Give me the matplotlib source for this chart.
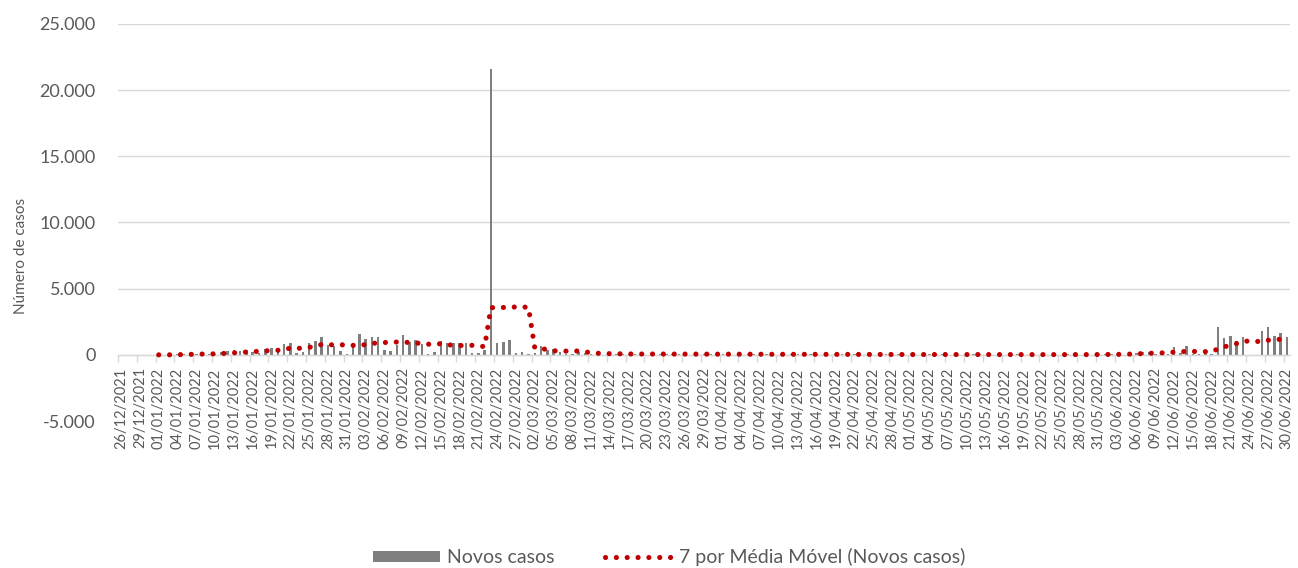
import numpy as np
import pandas as pd
import matplotlib
matplotlib.use('Agg')
import matplotlib.pyplot as plt
from matplotlib.ticker import FuncFormatter

# ---------------- data ----------------
datas = pd.date_range('2021-12-26', '2022-06-30', freq='D')
rotulos = [d.strftime('%d/%m/%Y') for d in datas]

novos_casos = [
    0, 0, 0, 0, 0, 0, 0,                      # 26/12 - 01/01
    0, 10, 60, 80, 90, 100, 80,               # 02/01 - 08/01
    40, 60, 200, 280, 330, 280, 330,          # 09/01 - 15/01
    250, 150, 430, 550, 400, 800, 930,        # 16/01 - 22/01
    170, 250, 880, 1080, 1380, 750, 700,      # 23/01 - 29/01
    300, 75, 700, 1560, 1180, 1330, 1330,     # 30/01 - 05/02
    330, 300, 750, 1500, 1000, 1130, 850,     # 06/02 - 12/02
    100, 250, 1050, 880, 900, 880, 900,       # 13/02 - 19/02
    170, 150, 360, 21600, 930, 940, 1130,     # 20/02 - 26/02
    170, 230, 75, 150, 650, 380, 450,         # 27/02 - 05/03
    200, 60, 100, 200, 120, 80, 70,           # 06/03 - 12/03
    15, 30, 90, 90, 80, 80, 50,               # 13/03 - 19/03
    10, 25, 90, 80, 70, 60, 40,               # 20/03 - 26/03
    10, 20, 80, 70, 60, 60, 40,               # 27/03 - 02/04
    10, 20, 70, 60, 60, 50, 30,               # 03/04 - 09/04
    10, 20, 60, 50, 50, 40, 30,               # 10/04 - 16/04
    5, 15, 50, 50, 40, 40, 20,                # 17/04 - 23/04
    5, 10, 40, 40, 40, 30, 20,                # 24/04 - 30/04
    5, 10, 40, 30, 30, 30, 20,                # 01/05 - 07/05
    5, 10, 30, 30, 30, 20, 20,                # 08/05 - 14/05
    5, 10, 30, 30, 20, 20, 10,                # 15/05 - 21/05
    5, 10, 30, 20, 30, 20, 20,                # 22/05 - 28/05
    5, 20, 40, 60, 50, 60, 20,                # 29/05 - 04/06
    150, 170, 180, 250, 100, 150, 50,         # 05/06 - 11/06
    575, 150, 675, 100, 50, 50, 30,           # 12/06 - 18/06
    2080, 1250, 1450, 1080, 1330, 0, 0,       # 19/06 - 25/06
    1800, 2080, 1450, 1630, 1380,             # 26/06 - 30/06
]
rotulo_barras = 'Novos casos'
rotulo_media = '7 por Média Móvel (Novos casos)'
janela_media = 7

media_movel = pd.Series(novos_casos, dtype=float).rolling(janela_media).mean()

# ---------------- style ----------------
plt.rcParams['font.family'] = ['Lato', 'DejaVu Sans']
cinza_txt = '#595959'
cinza_grade = '#d9d9d9'

W, H = 1298, 568
fig = plt.figure(figsize=(W / 100, H / 100), dpi=100)
ax = fig.add_axes([118 / W, 1 - 421 / H, (1290 - 118) / W, (421 - 24) / H])

x = np.arange(len(novos_casos))
barras = ax.bar(x, novos_casos, width=0.4, color='#7f7f7f', label=rotulo_barras, zorder=2)
linha, = ax.plot(x, media_movel, color='#c00000', lw=3.7, linestyle=(0, (0.01, 2.1)),
                 dash_capstyle='round', label=rotulo_media, zorder=3)

ax.set_ylim(-5000, 25000)
ax.set_xlim(-0.5, len(x) - 0.5)
ax.set_yticks(range(-5000, 25001, 5000))
ax.yaxis.set_major_formatter(FuncFormatter(lambda v, p: f'{int(v):,}'.replace(',', '.')))
ax.grid(axis='y', color=cinza_grade, lw=1)
ax.set_axisbelow(True)
for s in ['top', 'right', 'left']:
    ax.spines[s].set_visible(False)
ax.spines['bottom'].set_position(('data', 0))
ax.spines['bottom'].set_color(cinza_grade)
ax.spines['bottom'].set_linewidth(1)

ax.set_xticks(x[::3])
ax.set_xticklabels(rotulos[::3], rotation=90)
ax.set_xticks(np.arange(-0.5, len(x), 3), minor=True)
ax.tick_params(axis='x', which='major', length=0, pad=9, labelsize=10.5, labelcolor=cinza_txt)
ax.tick_params(axis='x', which='minor', length=5, width=1, color=cinza_grade)
ax.tick_params(axis='y', length=0, pad=16, labelsize=13, labelcolor=cinza_txt)

ax.set_ylabel('Número de casos', color=cinza_txt, fontsize=11)
ax.yaxis.set_label_coords(-0.077, 0.415)

leg = fig.legend(handles=[barras, linha], labels=[rotulo_barras, rotulo_media],
                 loc='center', bbox_to_anchor=(669 / W, 1 - 557 / H), ncol=2, frameon=False,
                 fontsize=14, handlelength=3.45, handleheight=0.5, columnspacing=2.6,
                 handletextpad=0.35, labelcolor=cinza_txt)

fig.savefig('out.png', dpi=100)
